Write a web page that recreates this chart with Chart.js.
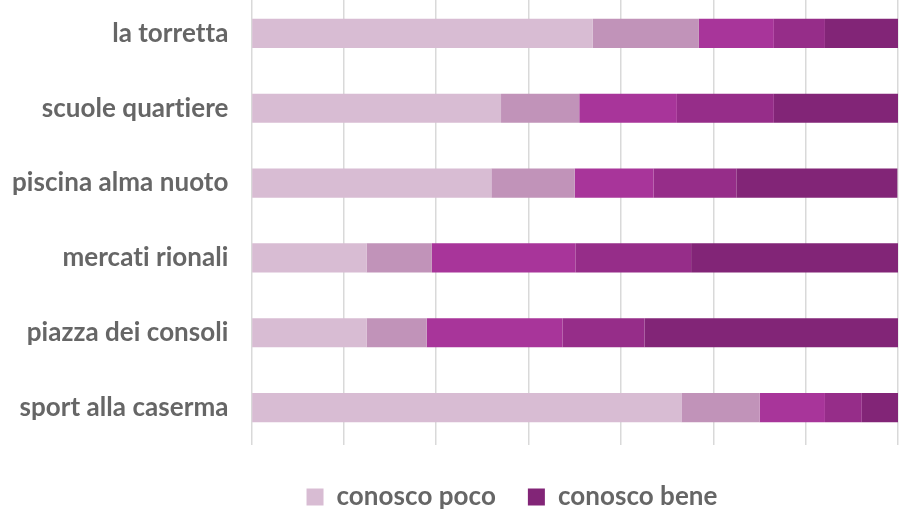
<!DOCTYPE html>
<html>
<head>
<meta charset="utf-8">
<script src="https://cdn.jsdelivr.net/npm/chart.js@4"></script>
<style>
  html, body { margin: 0; padding: 0; background: #fff; overflow: hidden; }
  #wrap { position: relative; width: 899px; height: 524px; margin-top: -4px; }
</style>
</head>
<body>
<div id="wrap"><canvas id="chart"></canvas></div>
<script>
// categorie (dall'alto verso il basso)
const categories = ['la torretta', 'scuole quartiere', 'piscina alma nuoto', 'mercati rionali', 'piazza dei consoli', 'sport alla caserma'];

// valori in % per livello di conoscenza
const conoscoPoco = [52.8, 38.6, 37.1, 17.8, 17.8, 66.5];
const livello2    = [16.4, 12.1, 12.9, 10.1,  9.3, 12.1];
const livello3    = [11.6, 15.1, 12.2, 22.2, 21.0, 10.1];
const livello4    = [ 7.9, 15.0, 12.8, 17.9, 12.7,  5.7];
const conoscoBene = [11.3, 19.2, 24.9, 32.0, 39.2,  5.6];

const seriesLabels = ['conosco poco', 'livello 2', 'livello 3', 'livello 4', 'conosco bene'];
const seriesData = [conoscoPoco, livello2, livello3, livello4, conoscoBene];
const colors = ['#d8bcd3', '#c193b9', '#a8359a', '#962d89', '#822577'];

const labelFont = { family: 'Lato', size: 26, weight: 'bold' };
const tickPad = 23;

// sposta la legenda un po' a destra, come nell'originale
const legendShift = {
    id: 'legendShift',
    afterLayout(chart) {
        chart.legend.left += 57;
        chart.legend.right += 57;
    }
};

// niente legature (tt, ti) nel testo
const noLigatures = {
    id: 'noLigatures',
    beforeUpdate(chart) { chart.ctx.letterSpacing = '0.05px'; },
    beforeDraw(chart) { chart.ctx.letterSpacing = '0.05px'; }
};

const ctx = document.getElementById('chart').getContext('2d');
new Chart(ctx, {
    type: 'bar',
    data: {
        labels: categories,
        datasets: seriesData.map((d, i) => ({
            label: seriesLabels[i],
            data: d,
            backgroundColor: colors[i],
            borderWidth: 0,
            barPercentage: 0.39,
            categoryPercentage: 1.0
        }))
    },
    options: {
        indexAxis: 'y',
        responsive: true,
        maintainAspectRatio: false,
        animation: false,
        layout: { padding: { left: 12, right: 1, top: 0, bottom: 0 } },
        scales: {
            x: {
                stacked: true,
                min: 0,
                max: 100,
                ticks: { display: false, stepSize: 100 / 7 },
                grid: { color: '#d9d9d9', lineWidth: 1.5, drawTicks: false },
                border: { display: false },
                afterFit: scale => { scale.height = 7; }
            },
            y: {
                stacked: true,
                ticks: { color: '#666666', font: labelFont, padding: tickPad },
                grid: { display: false, drawTicks: false },
                border: { display: false },
                afterFit: scale => {
                    scale.paddingTop = 0;
                    scale.paddingBottom = 0;
                    scale.width -= tickPad; // chart.js conta il padding due volte
                }
            }
        },
        plugins: {
            tooltip: { enabled: false },
            legend: {
                position: 'bottom',
                labels: {
                    filter: item => item.datasetIndex === 0 || item.datasetIndex === 4,
                    color: '#666666',
                    font: labelFont,
                    boxWidth: 17,
                    boxHeight: 17,
                    padding: 32
                }
            }
        }
    },
    plugins: [legendShift, noLigatures]
});
</script>
</body>
</html>
